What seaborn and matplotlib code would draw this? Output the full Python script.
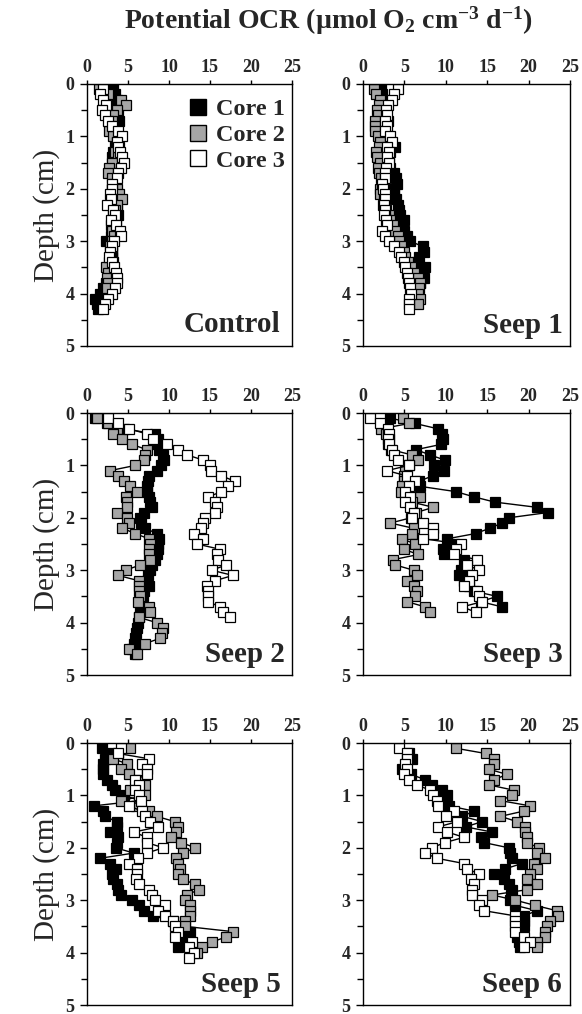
import numpy as np
import pandas as pd
import matplotlib
matplotlib.use("Agg")
import matplotlib.pyplot as plt
from matplotlib.lines import Line2D
import seaborn as sns

sns.set_style("white")
plt.rcParams["font.family"] = ["Liberation Serif", "DejaVu Serif"]
plt.rcParams["mathtext.fontset"] = "custom"
plt.rcParams["mathtext.rm"] = "Liberation Serif:bold"
plt.rcParams["mathtext.bf"] = "Liberation Serif:bold"
plt.rcParams["mathtext.it"] = "Liberation Serif:bold:italic"

# Sampling depths (cm), 1 mm slices
DEPTH = [0.1, 0.2, 0.3, 0.4, 0.5, 0.6, 0.7, 0.8, 0.9, 1.0,
         1.1, 1.2, 1.3, 1.4, 1.5, 1.6, 1.7, 1.8, 1.9, 2.0,
         2.1, 2.2, 2.3, 2.4, 2.5, 2.6, 2.7, 2.8, 2.9, 3.0,
         3.1, 3.2, 3.3, 3.4, 3.5, 3.6, 3.7, 3.8, 3.9, 4.0,
         4.1, 4.2, 4.3, 4.4, 4.5, 4.6]

SITES = ["Control", "Seep 1", "Seep 2", "Seep 3", "Seep 5", "Seep 6"]
CORES = ["Core 1", "Core 2", "Core 3"]
X_TICKS = [0, 5, 10, 15, 20, 25]
Y_TICKS = [0, 1, 2, 3, 4, 5]

# Potential OCR (umol O2 cm-3 d-1) per core, starting at 0.1 cm
control_c1 = [3.2, 3.4, 3.6, 3.7, 3.5, 3.8, 3.9, 3.7, 3.4, 3.3, 3.5, 3.4, 3.2, 3.0, 3.3,
              3.4, 3.2, 3.5, 3.3, 3.1, 3.4, 3.6, 3.4, 3.6, 3.8, 3.5, 3.3, 3.2, 2.9, 2.3,
              2.9, 3.1, 3.0, 3.2, 3.1, 2.9, 2.7, 2.3, 1.9, 1.6, 1.0, 1.2, 1.3]
control_c2 = [1.5, 2.5, 4.2, 4.8, 3.6, 3.2, 3.0, 2.8, 2.7, 3.2, 3.6, 3.9, 3.4, 3.8, 3.1,
              2.7, 2.5, 3.0, 3.3, 3.6, 3.9, 4.3, 3.7, 3.4, 3.2, 3.4, 2.9, 3.1, 3.3, 3.0,
              2.8, 3.0, 2.9, 2.7, 2.3, 2.6, 2.4, 2.5, 2.4]
control_c3 = [2.0, 1.6, 1.9, 2.3, 1.8, 2.2, 2.6, 3.0, 3.8, 4.3, 3.6, 3.8, 4.0, 4.3, 4.5,
              4.2, 3.8, 3.6, 3.1, 3.0, 2.8, 2.9, 2.4, 3.2, 3.4, 2.9, 3.5, 4.0, 4.1, 3.3,
              3.0, 2.8, 2.7, 3.0, 3.3, 3.5, 3.7, 3.6, 3.4, 3.0, 2.5, 2.2, 2.0]

seep1_c1 = [2.2, 2.3, 2.5, 2.6, 2.7, 2.8, 3.0, 2.6, 2.4, 2.5, 3.0, 3.9, 3.3, 3.0, 3.2,
            3.3, 3.7, 4.0, 4.1, 3.7, 3.8, 4.0, 4.2, 4.3, 4.5, 5.0, 4.6, 4.9, 5.3, 5.7,
            7.2, 7.4, 6.8, 6.5, 7.5, 7.2, 7.4, 6.9]
seep1_c2 = [1.3, 1.6, 2.0, 1.9, 1.7, 1.8, 1.5, 1.4, 1.5, 1.8, 2.0, 1.9, 1.6, 1.7, 2.0,
            1.8, 1.9, 2.2, 2.4, 2.0, 2.1, 2.5, 2.4, 2.8, 3.1, 3.3, 3.6, 3.9, 4.2, 4.4,
            4.6, 4.9, 5.1, 5.4, 5.8, 6.2, 6.6, 6.9, 6.8, 6.6, 6.9, 6.7]
seep1_c3 = [4.2, 3.8, 3.5, 3.0, 2.8, 2.9, 2.7, 2.9, 2.6, 3.3, 3.5, 2.9, 3.1, 2.9, 3.1,
            2.8, 2.7, 2.6, 2.3, 2.4, 2.6, 2.7, 2.5, 2.6, 2.5, 2.8, 2.9, 2.3, 2.6, 3.1,
            3.8, 4.3, 4.6, 4.9, 5.1, 5.3, 5.4, 5.5, 5.7, 5.8, 5.5, 5.6, 5.5]

seep2_c1 = [1.0, 2.4, 4.5, 8.3, 8.6, 8.4, 8.8, 9.3, 9.4, 9.0, 8.5, 7.6, 7.4, 7.3, 7.3,
            7.5, 7.7, 7.9, 7.0, 6.5, 6.6, 7.1, 8.5, 8.8, 8.7, 8.6, 8.5, 8.3, 7.9, 7.7,
            7.4, 7.3, 7.5, 7.0, 6.8, 6.7, 6.6, 6.5, 6.3, 6.2, 6.1, 6.0, 5.9, 5.7, 5.5,
            5.9]
seep2_c2 = [1.2, 2.6, 3.6, 3.2, 4.3, 5.5, 7.3, 7.1, 7.0, 5.9, 2.8, 3.8, 4.5, 5.3, 6.1,
            4.7, 4.9, 4.9, 3.6, 4.9, 5.1, 4.3, 5.9, 7.5, 7.7, 7.5, 7.6, 7.7, 6.5, 4.7,
            3.8, 6.3, 6.3, 6.4, 6.5, 6.2, 7.5, 7.7, 6.3, 8.5, 9.3, 9.1, 8.9, 7.1, 5.1,
            6.1]
seep2_c3 = [2.6, 3.8, 5.1, 7.3, 8.0, 9.7, 11.1, 12.2, 14.2, 15.0, 15.1, 16.4, 18.0, 17.2,
            16.4, 14.8, 15.6, 15.8, 15.6, 14.4, 14.2, 13.9, 13.0, 14.2, 13.4, 16.2, 15.8,
            16.0, 17.0, 15.2, 17.8, 15.6, 14.6, 14.8, 14.8, 14.8, 16.2, 16.6, 17.4]

seep3_c1 = [3.3, 6.3, 9.0, 9.6, 9.7, 9.4, 6.4, 8.1, 9.9, 8.6, 9.8, 8.4, 6.8, 6.9, 11.2,
            13.4, 15.9, 21.0, 22.3, 17.6, 16.8, 15.3, 13.6, 10.2, 11.0, 9.7, 9.8, 12.2,
            12.4, 11.8, 11.6, 12.2, 12.8, 13.4, 16.2, 14.2, 16.8]
seep3_c2 = [4.8, 5.6, 2.2, 2.8, 3.1, 3.0, 3.4, 5.9, 6.7, 5.6, 5.1, 4.9, 5.0, 4.7, 4.6,
            6.9, 5.9, 8.5, 6.4, 5.8, 3.3, 6.1, 5.9, 4.7, 6.3, 4.9, 6.7, 3.6, 3.9, 6.1,
            6.5, 5.3, 6.1, 6.5, 6.3, 5.3, 7.5, 8.1]
seep3_c3 = [0.8, 2.1, 3.0, 3.1, 3.0, 3.2, 3.5, 3.7, 4.2, 5.5, 2.9, 5.3, 6.3, 5.5, 5.1,
            5.7, 5.1, 5.7, 6.2, 5.9, 7.3, 8.5, 8.5, 7.3, 11.8, 11.2, 11.0, 13.8, 12.6,
            14.0, 13.2, 12.8, 12.2, 13.8, 14.0, 14.4, 12.0, 13.6]

seep5_c1 = [1.8, 2.5, 2.2, 2.0, 1.9, 2.0, 2.4, 3.0, 3.4, 4.5, 6.5, 0.8, 2.0, 2.2, 3.6,
            3.6, 2.8, 3.8, 3.6, 3.5, 5.7, 1.6, 2.8, 3.5, 3.0, 3.2, 3.6, 3.8, 4.1, 5.5,
            6.3, 7.0, 8.1, 10.5, 11.5, 12.6, 12.2, 11.5, 11.1]
seep5_c2 = [5.3, 3.8, 3.2, 4.9, 4.1, 5.1, 6.2, 7.1, 5.3, 7.1, 4.1, 6.0, 7.5, 8.5, 10.7,
            11.1, 10.9, 10.3, 11.5, 13.2, 11.7, 10.9, 11.1, 11.3, 11.1, 11.7, 13.2, 13.6,
            12.2, 12.0, 12.6, 12.6, 12.6, 12.0, 12.0, 17.8, 17.0, 15.2, 14.0, 13.4]
seep5_c3 = [4.1, 3.8, 7.5, 6.7, 7.3, 7.3, 5.9, 6.3, 5.9, 6.3, 6.6, 5.1, 6.7, 7.1, 7.7,
            8.7, 5.7, 7.3, 7.3, 9.3, 7.3, 6.2, 5.1, 6.1, 6.1, 6.0, 6.3, 7.5, 7.9, 8.3,
            9.5, 8.7, 9.5, 10.5, 10.7, 11.1, 10.7, 12.8, 12.4, 13.0, 12.4]

seep6_c1 = [np.nan, 5.6, 5.9, 5.2, 4.7, 5.8, 7.5, 8.3, 9.5, 10.2, 9.8, 10.4, 13.4, 12.0,
            14.4, 12.4, 15.6, 14.2, 14.6, 17.6, 17.8, 18.0, 19.2, 17.2, 15.8, 17.0, 17.6,
            18.0, 17.9, 17.8, 18.4, 21.0, 19.4, 19.5, 19.4, 19.2, 18.6, 18.8, 19.0]
seep6_c2 = [11.2, 14.8, 15.8, 15.8, 15.2, 17.4, 15.8, 15.2, 18.2, 18.0, 16.6, 20.2, 19.4,
            16.6, 18.6, 19.6, 19.6, 19.8, 19.8, 21.2, 21.0, 22.0, 20.6, 21.0, 20.2, 19.8,
            21.0, 19.8, 15.6, 18.4, 20.8, 23.4, 23.6, 22.6, 22.2, 22.0, 22.0, 21.0, 21.0]
seep6_c3 = [4.3, 5.3, 5.3, 5.1, 5.3, 4.9, 5.5, 6.5, 8.1, 8.5, 8.9, 9.1, 11.0, 10.0, 11.4,
            9.1, 10.2, 12.2, 9.9, 8.3, 7.5, 8.9, 12.2, 12.6, 14.0, 13.0, 13.4, 13.2, 13.2,
            14.4, 14.0, 14.6, 18.4, 18.4, 18.4, 18.4, 19.4, 20.2, 19.4]

PROFILES = {
    "Control": [control_c1, control_c2, control_c3],
    "Seep 1": [seep1_c1, seep1_c2, seep1_c3],
    "Seep 2": [seep2_c1, seep2_c2, seep2_c3],
    "Seep 3": [seep3_c1, seep3_c2, seep3_c3],
    "Seep 5": [seep5_c1, seep5_c2, seep5_c3],
    "Seep 6": [seep6_c1, seep6_c2, seep6_c3],
}

FACE = {"Core 1": "black", "Core 2": "#a6a6a6", "Core 3": "white"}

W, H = 582, 1014
fig = plt.figure(figsize=(W / 100, H / 100), dpi=100)

# panel boxes in pixels: left, top, width, height
cols = [(87, 205), (363, 207)]
rows = [84, 413, 743]
panel_h = 262

label_pos = {"Control": (0.945, 0.055), "Seep 1": (0.965, 0.05),
             "Seep 2": (0.965, 0.05), "Seep 3": (0.965, 0.05),
             "Seep 5": (0.945, 0.05), "Seep 6": (0.96, 0.05)}

for i, site in enumerate(SITES):
    r, c = divmod(i, 2)
    left, width = cols[c]
    top = rows[r]
    ax = fig.add_axes([left / W, 1 - (top + panel_h) / H, width / W, panel_h / H])

    frames = []
    for core, vals in zip(CORES, PROFILES[site]):
        frames.append(pd.DataFrame({"depth": DEPTH[:len(vals)], "ocr": vals, "core": core}))
    df = pd.concat(frames, ignore_index=True)

    for core in CORES:
        sub = df[df["core"] == core].dropna()
        sns.lineplot(data=sub, x="ocr", y="depth", orient="y", sort=False,
                     estimator=None, ax=ax, color="black", linewidth=1.0,
                     marker="s", markersize=6.8, markerfacecolor=FACE[core],
                     markeredgecolor="black", markeredgewidth=0.9)

    ax.set_xlim(0, 25)
    ax.set_ylim(5, 0)
    ax.set_xticks(X_TICKS)
    ax.set_yticks(Y_TICKS)
    ax.set_yticks([0.5, 1.5, 2.5, 3.5, 4.5], minor=True)
    ax.xaxis.tick_top()
    ax.tick_params(axis="both", which="both", direction="out", color="black",
                   labelsize=13, width=1)
    ax.tick_params(axis="y", which="major", length=5, pad=4, left=True)
    ax.tick_params(axis="y", which="minor", length=4, left=True)
    ax.tick_params(axis="x", which="major", length=3, pad=3, top=True, bottom=False)
    for lab in ax.get_xticklabels() + ax.get_yticklabels():
        lab.set_fontweight("bold")
    for sp in ax.spines.values():
        sp.set_color("black")
        sp.set_linewidth(1)
    ax.set_xlabel("")
    ax.set_ylabel("Depth (cm)" if c == 0 else "", fontsize=21, labelpad=4)

    lx, ly = label_pos[site]
    ax.text(lx, ly, site, transform=ax.transAxes, ha="right", va="baseline",
            fontsize=21, fontweight="bold")

    if site == "Control":
        handles = [Line2D([], [], linestyle="none", marker="s", markersize=12,
                          markerfacecolor=FACE[k], markeredgecolor="black",
                          markeredgewidth=1) for k in CORES]
        ax.legend(handles, CORES, loc="upper left", bbox_to_anchor=(0.41, 1.01),
                  frameon=False, handlelength=0.8, handletextpad=0.35,
                  labelspacing=0.15, borderpad=0.2,
                  prop={"family": "Liberation Serif", "weight": "bold", "size": 17.5})

fig.text(0.565, 0.980,
         "Potential OCR (µmol O$_2$ cm$^{-3}$ d$^{-1}$)",
         ha="center", va="center", fontsize=20, fontweight="bold")

fig.savefig("out.png", dpi=100)
